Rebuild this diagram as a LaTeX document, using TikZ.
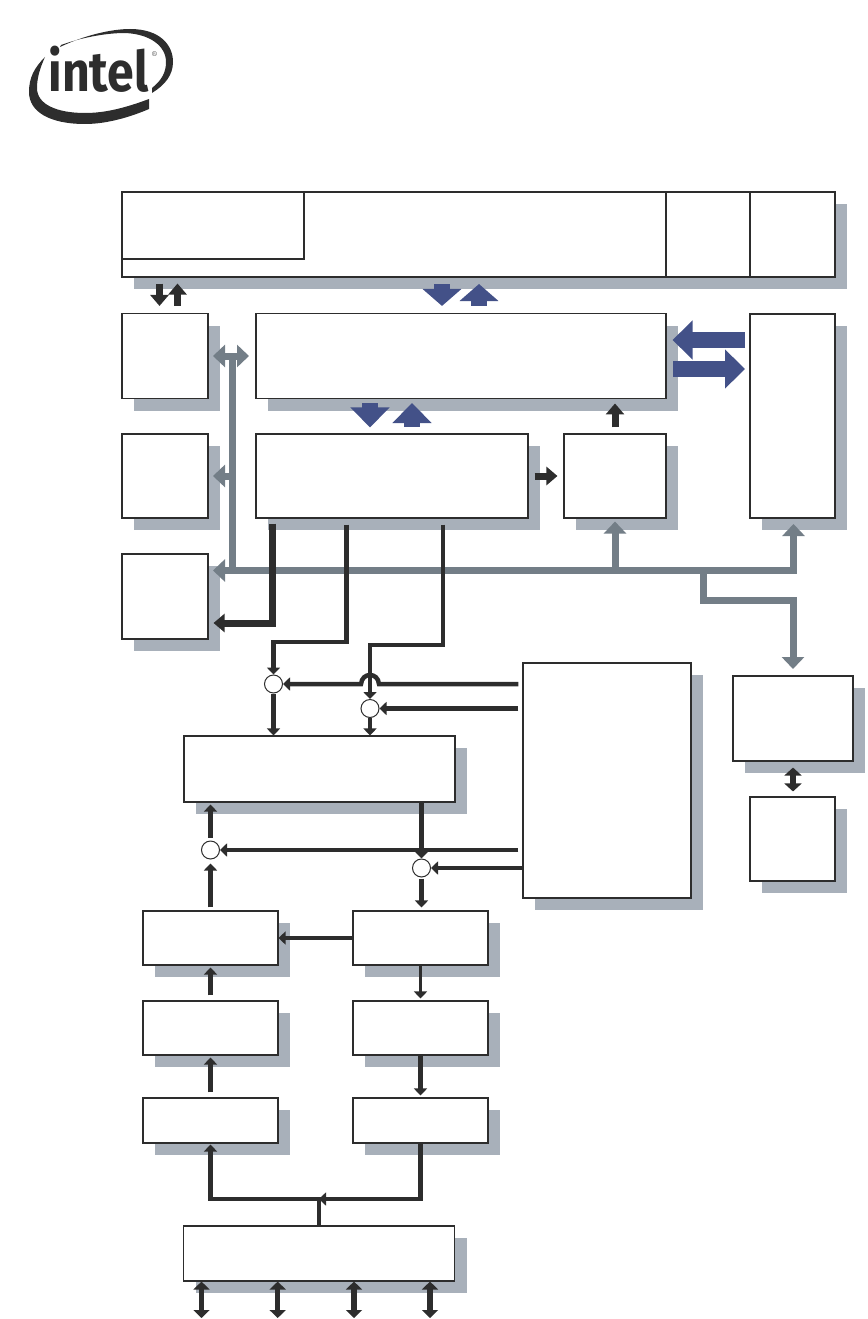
\documentclass[tikz,border=0pt]{standalone}
\usepackage{fontspec}
\usetikzlibrary{arrows.meta,shadows,calc}
\newfontfamily\logofont{Fira Sans}
\definecolor{ink}{HTML}{2D2D2D}
\definecolor{shade}{HTML}{A8B0BA}
\definecolor{slate}{HTML}{737E87}
\definecolor{navy}{HTML}{435188}
\tikzset{
  flat/.style={draw=ink, fill=white, line width=1.1pt, inner sep=0pt, rectangle},
  box/.style={flat, drop shadow={shadow xshift=12pt, shadow yshift=-12pt, opacity=1, fill=shade}},
  mux/.style={draw=ink, fill=white, line width=1pt, circle, inner sep=0pt, minimum size=18pt},
  wire/.style={draw=ink, line width=4.5pt, >={Triangle[length=7pt,width=13pt]}},
  wirethin/.style={wire, line width=3.5pt},
  heavy/.style={draw=ink, line width=7pt, >={Triangle[length=11pt,width=18pt]}},
  bus/.style={draw=slate, line width=7pt, >={Triangle[length=12pt,width=22pt]}},
  lane/.style={draw=navy, line width=16pt, >={Triangle[length=20pt,width=38pt]}},
  lanetop/.style={lane, >={Triangle[length=17pt,width=38pt]}},
}
\begin{document}
\begin{tikzpicture}[x=1pt, y=-1pt]
  \useasboundingbox (0,0) rectangle (867,1319);

  % logo
  \fill[ink] (60,47) .. controls (85,35) and (112,29) .. (130,29) .. controls (160,29) and (173,45) .. (173,62)
    .. controls (173,75) and (165,85) .. (152,93) -- (152,88) .. controls (162,80) and (166,72) .. (166,62)
    .. controls (166,46) and (150,34) .. (125,33) .. controls (105,33) and (80,38) .. (61,45) -- cycle;
  \fill[ink] (45,57) .. controls (34,68) and (29,78) .. (29,92) .. controls (29,112) and (50,124) .. (85,124)
    .. controls (110,124) and (135,115) .. (149,109) -- (149,99) .. controls (125,108) and (105,113) .. (85,113)
    .. controls (58,113) and (37,105) .. (37,88) .. controls (37,78) and (40,68) .. (45,57) -- cycle;
  \node[inner sep=0pt, anchor=base, text=ink] (brand) at (98.5,92) {\scalebox{0.86}[1]{\logofont\bfseries\fontsize{56}{56}\selectfont intel}};
  \node[inner sep=0pt, text=ink] (regmark) at (154.5,54.5) {\fontsize{7}{7}\selectfont ®};

  % boxes
  \node[box, minimum width=713pt, minimum height=85pt] (top) at (478.5,234.5) {};
  \node[flat, minimum width=182pt, minimum height=67pt] (topcache) at (213,225.5) {};
  \node[flat, minimum width=84pt, minimum height=85pt] (topa) at (708,234.5) {};
  \node[flat, minimum width=85pt, minimum height=85pt] (topb) at (792.5,234.5) {};
  \node[box, minimum width=86pt, minimum height=85pt] (ctrl) at (165,356) {};
  \node[box, minimum width=410pt, minimum height=85pt] (core) at (461,356) {};
  \node[box, minimum width=85pt, minimum height=204pt] (ports) at (792.5,416) {};
  \node[box, minimum width=86pt, minimum height=84pt] (timer) at (165,476) {};
  \node[box, minimum width=272pt, minimum height=84pt] (engine) at (392,476) {};
  \node[box, minimum width=102pt, minimum height=84pt] (fetch) at (615,476) {};
  \node[box, minimum width=86pt, minimum height=85pt] (store) at (165,596.5) {};
  \node[box, minimum width=168pt, minimum height=235pt] (regs) at (607,780.5) {};
  \node[box, minimum width=120pt, minimum height=85pt] (bridge) at (793,718.5) {};
  \node[box, minimum width=85pt, minimum height=84pt] (phy) at (792.5,839) {};
  \node[box, minimum width=271pt, minimum height=66pt] (sched) at (319.5,769) {};
  \node[box, minimum width=135pt, minimum height=54pt] (leftone) at (210.5,938) {};
  \node[box, minimum width=135pt, minimum height=54pt] (rightone) at (420.5,938) {};
  \node[box, minimum width=135pt, minimum height=54pt] (lefttwo) at (210.5,1028) {};
  \node[box, minimum width=135pt, minimum height=54pt] (righttwo) at (420.5,1028) {};
  \node[box, minimum width=135pt, minimum height=45pt] (leftthree) at (210.5,1120.5) {};
  \node[box, minimum width=135pt, minimum height=45pt] (rightthree) at (420.5,1120.5) {};
  \node[box, minimum width=271pt, minimum height=55pt] (link) at (319,1253.5) {};

  \node[mux] (muxa) at (273.5,684) {};
  \node[mux] (muxb) at (370,708.5) {};
  \node[mux] (muxc) at (210.5,850) {};
  \node[mux] (muxd) at (421.5,868) {};

  % free ends
  \coordinate (upl) at (159.5,283);
  \coordinate (upr) at (177.5,283);
  \coordinate (lanea) at (442,284);
  \coordinate (laneb) at (479,284);
  \coordinate (lanec) at (370,403);
  \coordinate (laned) at (412,403);
  \coordinate (lanee) at (745,340);
  \coordinate (lanef) at (745,369);
  \coordinate (trunk) at (232.5,356);
  \coordinate (junction) at (232.5,570.5);
  \coordinate (busend) at (793.5,524);
  \coordinate (bend) at (703,600.5);
  \coordinate (drop) at (793,669);
  \coordinate (wirea) at (272.5,623);
  \coordinate (wireb) at (346.5,642);
  \coordinate (wirec) at (443,645);
  \coordinate (hopr) at (379,684);
  \coordinate (hopl) at (361,684);
  \coordinate (tap) at (319,1199);

  % bus
  \draw[bus, <->] ($(trunk)+(-19.5,0)$) -- ($(trunk)+(16.5,0)$);
  \draw[bus] (trunk) -- (junction);
  \draw[bus, ->] (trunk |- timer.east) -- ++(-19.5,0);
  \draw[bus, <->] (busend) |- ($(junction)+(-19.5,0)$);
  \draw[bus, ->] (fetch.south |- junction) -- ($(fetch.south)+(0,3)$);
  \draw[bus, ->] (bend |- junction) -- (bend) -| (drop);

  % lanes
  \draw[lanetop, ->] (lanea) -- ($(lanea |- core.north)+(0,-7)$);
  \draw[lanetop, <-] (laneb) -- ($(laneb |- core.north)+(0,-7)$);
  \draw[lane, ->] (lanec) -- ($(lanec |- engine.north)+(0,-6)$);
  \draw[lane, <-] (laned) -- ($(laned |- engine.north)+(0,-6)$);
  \draw[lane, ->] (lanee) -- ($(core.east |- lanee)+(6,0)$);
  \draw[lane, <-] (lanef) -- ($(core.east |- lanef)+(6,0)$);

  % heavy wires
  \draw[heavy, ->] ($(upl |- top.south)+(0,6)$) -- ($(upl |- ctrl.north)+(0,-7)$);
  \draw[heavy, <-] ($(upr |- top.south)+(0,6)$) -- ($(upr |- ctrl.north)+(0,-7)$);
  \draw[heavy, ->] ($(fetch.north)+(0,-6)$) -- ($(fetch.north)+(0,-30)$);
  \draw[heavy, ->] ($(engine.east)+(6,0)$) -- ($(fetch.west)+(-6,0)$);
  \draw[heavy, ->] ($(wirea |- engine.south)+(0,5)$) -- (wirea) -- ($(store.east |- wirea)+(5,0)$);

  % wires
  \draw[wire, ->] ($(wireb |- engine.south)+(0,6)$) -- (wireb) -| (muxa.north);
  \draw[wire, ->] ($(wirec |- engine.south)+(0,6)$) -- (wirec) -| (muxb.north);
  \draw[wire, ->] ($(regs.west |- hopr)+(-4,0)$) -- (hopr) .. controls (378,672) and (362,672) .. (hopl) -- (muxa.east);
  \draw[wire, ->] ($(regs.west |- muxb)+(-4,0)$) -- (muxb.east);
  \draw[wire, ->] (muxa.south) -- (muxa.south |- sched.north);
  \draw[wire, ->] (muxb.south) -- (muxb.south |- sched.north);
  \draw[wire, ->] (muxd.north |- sched.south) -- (muxd.north);
  \draw[wire, ->] ($(regs.west |- muxc)+(-4,0)$) -- (muxc.east);
  \draw[wire, ->] (regs.west |- muxd) -- (muxd.east);
  \draw[wire, ->] ($(muxc.north)+(0,-3)$) -- ($(muxc.north |- sched.south)+(0,2)$);
  \draw[wire, ->] ($(leftone.north)+(0,-3)$) -- ($(muxc.south)+(0,4)$);
  \draw[wire, ->] ($(muxd.south)+(0,1)$) -- ($(muxd.south |- rightone.north)+(0,-3)$);
  \draw[wirethin, ->] (rightone.west) -- (leftone.east);
  \draw[wirethin, ->] (rightone.south) -- ($(righttwo.north)+(0,-2)$);
  \draw[wire, ->] ($(lefttwo.north)+(0,-5)$) -- ($(leftone.south)+(0,2)$);
  \draw[wire, ->] ($(leftthree.north)+(0,-5)$) -- ($(lefttwo.south)+(0,2)$);
  \draw[wire, ->] (righttwo.south) -- ($(rightthree.north)+(0,-2)$);
  \draw[wire, ->] (link.north) -- (tap) -| ($(leftthree.south)+(0,1)$);
  \draw[wire, ->] (rightthree.south) |- (tap);

  % pins
  \foreach \pinx [count=\i] in {201.5,277.7,354,430} {
    \coordinate (pin\i) at (\pinx,1318);
    \draw[wire, line width=5.5pt, >={Triangle[length=8pt,width=16pt]}, <->] (pin\i |- link.south) -- (pin\i);
  }
  \draw[wire, line width=5.5pt, >={Triangle[length=8pt,width=17pt]}, <->] ($(bridge.south)+(0,6)$) -- ($(phy.north)+(0.5,-5)$);
\end{tikzpicture}
\end{document}
